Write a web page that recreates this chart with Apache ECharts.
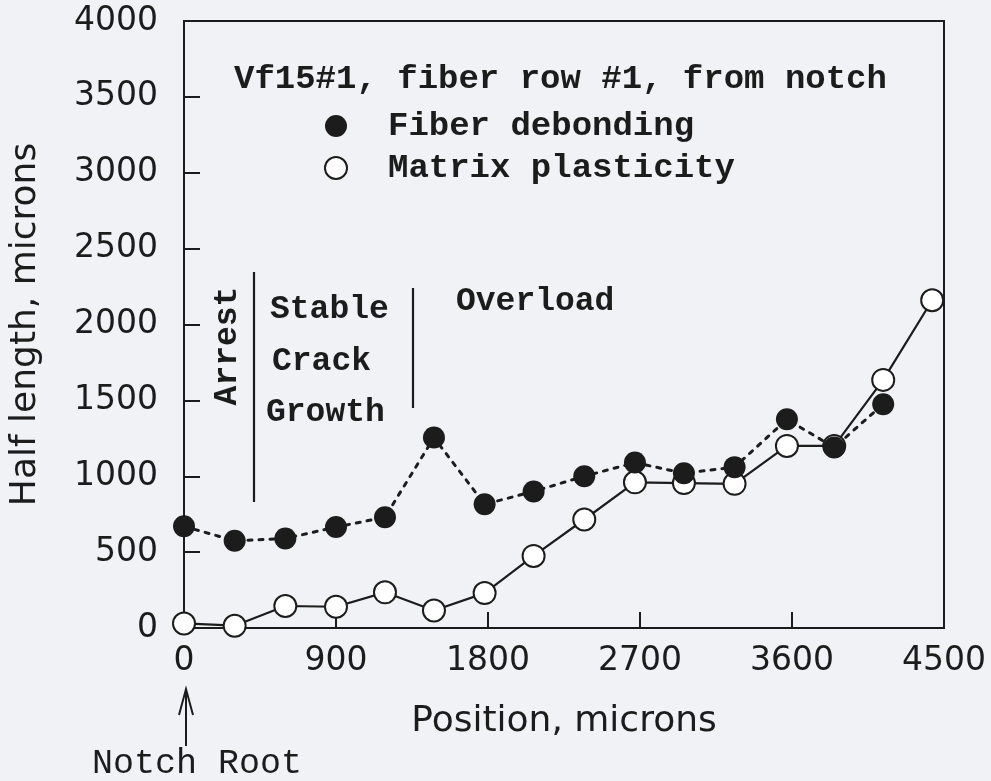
<!DOCTYPE html>
<html>
<head>
<meta charset="utf-8">
<script src="https://cdn.jsdelivr.net/npm/echarts@6/dist/echarts.min.js"></script>
<style>
html,body{margin:0;padding:0;background:#f1f2f6;}
#chart{width:991px;height:781px;}
</style>
</head>
<body>
<div id="chart"></div>
<script>
// ---- data ----
const fiberX  = [0, 300, 600, 900, 1190, 1480, 1780, 2070, 2370, 2670, 2960, 3260, 3570, 3850, 4140];
const fiberY  = [670, 575, 590, 665, 730, 1255, 815, 900, 1000, 1090, 1020, 1060, 1375, 1190, 1475];
const matrixX = [0, 300, 600, 900, 1190, 1480, 1780, 2070, 2370, 2670, 2960, 3260, 3570, 3850, 4140, 4430];
const matrixY = [30, 15, 145, 140, 235, 115, 230, 475, 715, 960, 955, 950, 1200, 1200, 1635, 2160];
const xTicks = [0, 900, 1800, 2700, 3600, 4500];
const yTicks = [0, 500, 1000, 1500, 2000, 2500, 3000, 3500, 4000];
const seriesNames = ['Fiber debonding', 'Matrix plasticity'];
const titleText = 'Vf15#1, fiber row #1, from notch';

const INK = '#1c1c1c';
const MONO = '"Liberation Mono", "Courier New", monospace';
const SANS = '"DejaVu Sans", sans-serif';

const chart = echarts.init(document.getElementById('chart'), null, {renderer: 'canvas'});

const option = {
  backgroundColor: '#f1f2f6',
  animation: false,
  title: {
    text: titleText,
    left: 229, top: 57,
    textStyle: {fontFamily: MONO, fontWeight: 'bold', fontSize: 34, color: INK}
  },
  legend: {
    orient: 'vertical',
    left: 319, top: 104,
    itemWidth: 22, itemHeight: 22,
    itemGap: 8,
    textStyle: {fontFamily: MONO, fontWeight: 'bold', fontSize: 34, color: INK, padding: [0, 0, 0, 36]},
    data: [
      {name: seriesNames[0], icon: 'circle', itemStyle: {color: INK, borderColor: INK, borderWidth: 0}},
      {name: seriesNames[1], icon: 'circle', itemStyle: {color: '#ffffff', borderColor: INK, borderWidth: 2}}
    ]
  },
  grid: {left: 183, right: 47, top: 21, bottom: 153, show: true, borderColor: INK, borderWidth: 2, backgroundColor: 'transparent'},
  xAxis: {
    type: 'value', min: xTicks[0], max: xTicks[xTicks.length - 1], interval: 900,
    name: 'Position, microns', nameLocation: 'middle', nameGap: 76,
    nameTextStyle: {fontFamily: SANS, fontSize: 36, color: INK},
    axisLine: {show: true, lineStyle: {color: INK, width: 2}},
    axisTick: {show: true, inside: true, length: 16, lineStyle: {color: INK, width: 2}},
    axisLabel: {fontFamily: SANS, fontSize: 33, color: INK, margin: 17, formatter: v => String(v)},
    splitLine: {show: false}
  },
  yAxis: {
    type: 'value', min: yTicks[0], max: yTicks[yTicks.length - 1], interval: 500,
    name: 'Half length, microns', nameLocation: 'middle', nameGap: 140, nameRotate: 90,
    nameTextStyle: {fontFamily: SANS, fontSize: 36, color: INK},
    axisLine: {show: true, lineStyle: {color: INK, width: 2}},
    axisTick: {show: true, inside: true, length: 16, lineStyle: {color: INK, width: 2}},
    axisLabel: {fontFamily: SANS, fontSize: 33, color: INK, margin: 26, formatter: v => String(v)},
    splitLine: {show: false}
  },
  series: [
    {
      name: seriesNames[1], type: 'line', z: 2,
      data: matrixX.map((x, i) => [x, matrixY[i]]),
      symbol: 'circle', symbolSize: 22,
      itemStyle: {color: '#ffffff', borderColor: INK, borderWidth: 2},
      lineStyle: {color: INK, width: 2.2}
    },
    {
      name: seriesNames[0], type: 'line', z: 3,
      data: fiberX.map((x, i) => [x, fiberY[i]]),
      symbol: 'circle', symbolSize: 22,
      itemStyle: {color: INK, borderColor: INK, borderWidth: 0},
      lineStyle: {color: INK, width: 3, type: [4, 7], cap: 'round'}
    }
  ],
  graphic: [
    {type: 'text', x: 228, y: 346, rotation: Math.PI / 2,
     style: {text: 'Arrest', font: 'bold 33px ' + MONO, fill: INK, align: 'center', verticalAlign: 'middle'}},
    {type: 'line', shape: {x1: 254, y1: 272, x2: 254, y2: 502}, style: {stroke: INK, lineWidth: 2.2}},
    {type: 'text', x: 270, y: 310, style: {text: 'Stable', font: 'bold 33px ' + MONO, fill: INK, verticalAlign: 'middle'}},
    {type: 'text', x: 272, y: 362, style: {text: 'Crack', font: 'bold 33px ' + MONO, fill: INK, verticalAlign: 'middle'}},
    {type: 'text', x: 266, y: 413, style: {text: 'Growth', font: 'bold 33px ' + MONO, fill: INK, verticalAlign: 'middle'}},
    {type: 'line', shape: {x1: 413, y1: 288, x2: 413, y2: 408}, style: {stroke: INK, lineWidth: 2.2}},
    {type: 'text', x: 456, y: 302, style: {text: 'Overload', font: 'bold 33px ' + MONO, fill: INK, verticalAlign: 'middle'}},
    {type: 'line', shape: {x1: 186, y1: 746, x2: 186, y2: 689}, style: {stroke: INK, lineWidth: 2}},
    {type: 'polyline', shape: {points: [[179, 715], [186, 689], [193, 715]]}, style: {stroke: INK, lineWidth: 2, fill: null}},
    {type: 'text', x: 92, y: 764, style: {text: 'Notch Root', font: '35px ' + MONO, fill: INK, verticalAlign: 'middle'}}
  ]
};
chart.setOption(option);
</script>
</body>
</html>
